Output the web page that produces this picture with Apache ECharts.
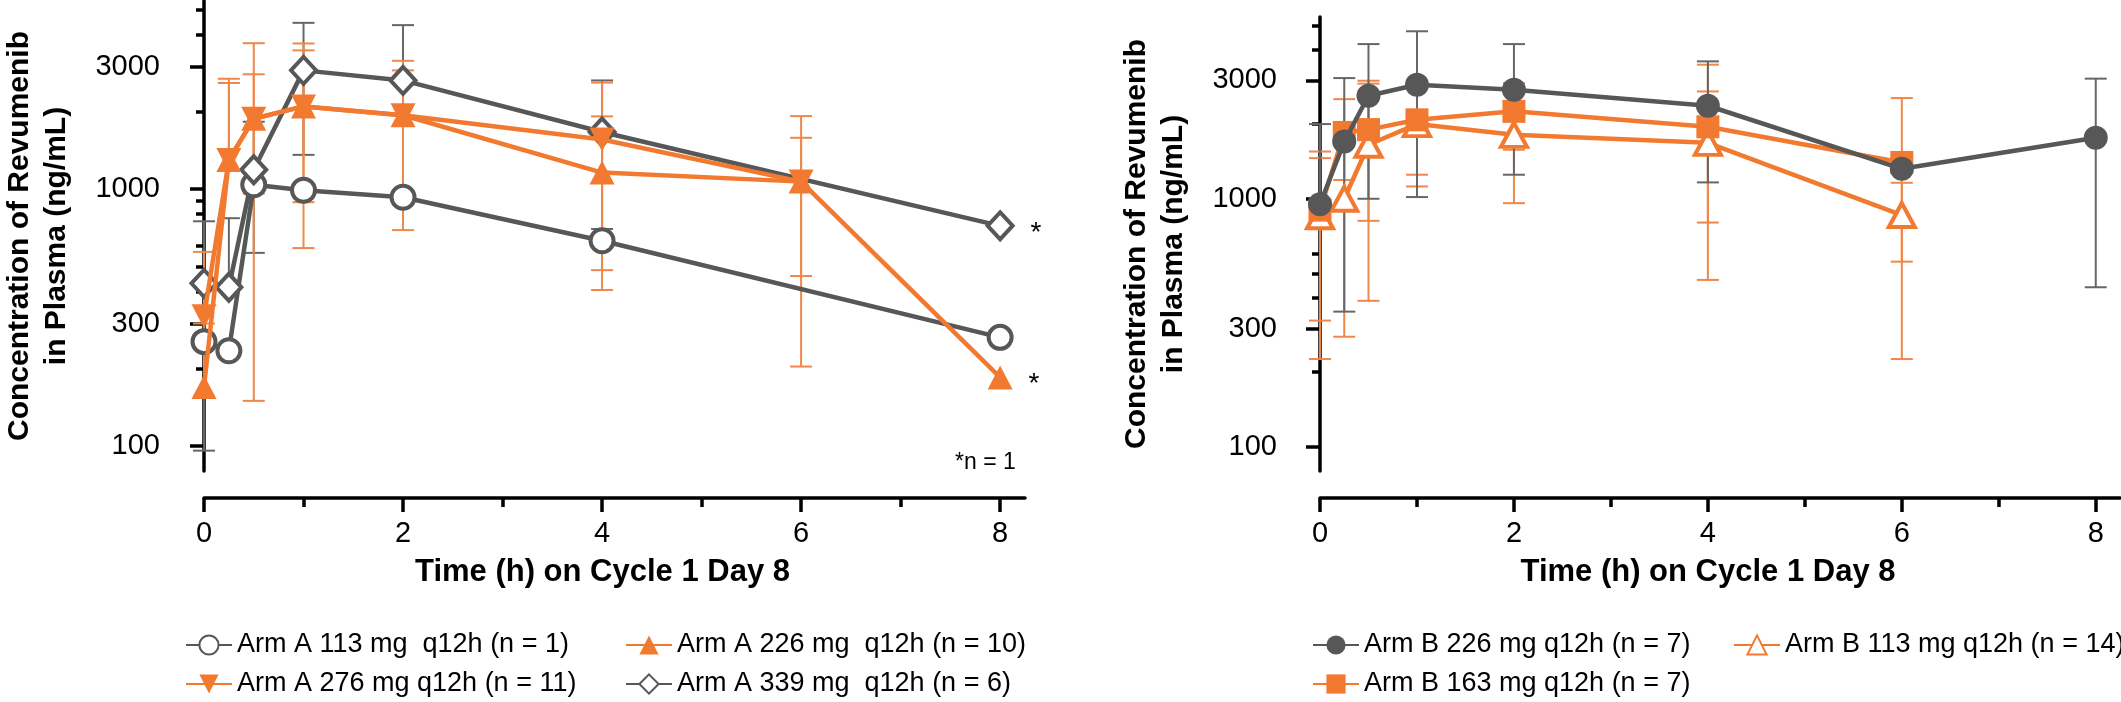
<!DOCTYPE html>
<html><head><meta charset="utf-8">
<script src="https://cdn.jsdelivr.net/npm/echarts@6/dist/echarts.min.js"></script>
<style>html,body{margin:0;padding:0;background:#fff}#c{width:2121px;height:702px}</style>
</head><body><div id="c"></div>
<script>
// ---------- data ----------
const timePoints = [0, 0.25, 0.5, 1, 2, 4, 6, 8];
const xTickLabels = [0, 2, 4, 6, 8];
const xMinorTicks = [1, 3, 5, 7];
const yTickLabels = [100, 300, 1000, 3000];
const yMinorTicks = [200, 400, 500, 600, 800, 900, 2000, 4000, 5000];

// Arm A (left panel) mean concentrations (ng/mL)
const armA113 = [255, 235, 1040, 990, 930, 630, null, 265];
const armA226 = [170, 1300, 1880, 2100, 1940, 1160, 1070, 185];
const armA276 = [320, 1300, 1880, 2100, 1940, 1560, 1070, null];
const armA339 = [430, 415, 1190, 2900, 2650, 1670, null, 720];
// error bar ends (null = not drawn)
const armA226Low  = [null, null, 150, 590, 693, 405, 204, null];
const armA226High = [300, 2590, 3700, 3690, 3160, 1920, 1925, null];
const armA276Low  = [null, null, 960, 890, 900, 484, 459, null];
const armA276High = [570, 2690, 2800, 3470, 2900, 2600, 1585, null];
const armA339Low  = [96, null, 565, 1360, 960, 700, null, null];
const armA339High = [750, 771, 1830, 4440, 4350, 2650, null, null];

// Arm B (right panel)
const armB226 = [950, 1700, 2600, 2880, 2750, 2370, 1320, 1760];
const armB163 = [900, 1850, 1900, 2080, 2250, 1950, 1400, null];
const armB113 = [850, 1000, 1650, 2000, 1810, 1680, 860, null];
const armB226Low  = [null, 351, 1000, 1016, 1250, 1164, null, 440];
const armB226High = [2000, 3064, 4200, 4730, 4200, 3578, null, 3048];
const armB163Low  = [226, 1190, 815, 1250, 1576, 471, 226, null];
const armB163High = [1550, 2520, 2990, 2910, 2924, 3470, 2546, null];
const armB113Low  = [323, 278, 388, 1121, 960, 802, 558, null];
const armB113High = [1458, 1720, 2910, 2880, 2660, 2707, 1160, null];

const namesA = ['Arm A 113 mg  q12h (n = 1)', 'Arm A 226 mg  q12h (n = 10)', 'Arm A 276 mg q12h (n = 11)', 'Arm A 339 mg  q12h (n = 6)'];
const namesB = ['Arm B 226 mg q12h (n = 7)', 'Arm B 163 mg q12h (n = 7)', 'Arm B 113 mg q12h (n = 14)'];
const xTitle = 'Time (h) on Cycle 1 Day 8';
const yTitle = 'Concentration of Revumenib\nin Plasma (ng/mL)';
const footnote = '*n = 1';

// ---------- style ----------
const FONT = 'Liberation Sans, Arial, Helvetica, sans-serif';
const GRAY = '#575757';
const GRAY_ERR = '#666666';
const ORANGE = '#f27a30';
const ORANGE_ERR = '#f0874a';

function pts(vals, starIdx) {
  const out = [];
  timePoints.forEach((t, i) => {
    if (vals[i] == null) return;
    if (i === starIdx) {
      out.push({ value: [t, vals[i]], label: { show: true, formatter: '*', position: 'right', distance: 16,
        offset: [0, 7], fontSize: 28, color: '#000', fontFamily: FONT } });
    } else out.push([t, vals[i]]);
  });
  return out;
}
function errData(vals, lo, hi) {
  const out = [];
  timePoints.forEach((t, i) => {
    if (hi[i] == null || vals[i] == null) return;
    out.push([t, lo[i] == null ? vals[i] : lo[i], hi[i], lo[i] == null ? 0 : 1]);
  });
  return out;
}
function errRender(color) {
  return function (params, api) {
    const x = api.value(0);
    const pLo = api.coord([x, api.value(1)]);
    const pHi = api.coord([x, api.value(2)]);
    const w = 11;
    const style = { stroke: color, lineWidth: 2 };
    const ch = [
      { type: 'line', shape: { x1: pLo[0], y1: pLo[1], x2: pHi[0], y2: pHi[1] }, style },
      { type: 'line', shape: { x1: pHi[0] - w, y1: pHi[1], x2: pHi[0] + w, y2: pHi[1] }, style }
    ];
    if (api.value(3) === 1) ch.push({ type: 'line', shape: { x1: pLo[0] - w, y1: pLo[1], x2: pLo[0] + w, y2: pLo[1] }, style });
    return { type: 'group', children: ch };
  };
}
function errSeries(ax, vals, lo, hi, color) {
  return { type: 'custom', xAxisIndex: ax, yAxisIndex: ax, data: errData(vals, lo, hi),
    encode: { x: 0, y: [1, 2] }, renderItem: errRender(color), z: 1, silent: true };
}
function lineSeries(ax, name, data, color, symbol, size, fill, z) {
  return { type: 'line', name, xAxisIndex: ax, yAxisIndex: ax, data, symbol, symbolSize: size,
    lineStyle: { color, width: 4.5 }, itemStyle: { color: fill, borderColor: color, borderWidth: fill === '#fff' ? 4 : 0 },
    z: z || 3, animation: false };
}

function xMain(grid) {
  return { type: 'value', gridIndex: grid, min: 0, max: 8.25, offset: 27, position: 'bottom',
    axisLine: { show: true, onZero: false, lineStyle: { color: '#000', width: 3.5 } },
    axisTick: { show: true, customValues: xTickLabels, length: 14, lineStyle: { color: '#000', width: 3.5 } },
    axisLabel: { show: true, customValues: xTickLabels, formatter: v => String(Math.round(v)), fontSize: 29, color: '#000', fontFamily: FONT, margin: 21 },
    splitLine: { show: false },
    name: xTitle, nameLocation: 'middle', nameGap: 59,
    nameTextStyle: { fontSize: 31, fontWeight: 'bold', color: '#000', fontFamily: FONT, padding: [0, 24, 0, 0] } };
}
function xMinor(grid) {
  return { type: 'value', gridIndex: grid, min: 0, max: 8.25, offset: 27, position: 'bottom',
    axisLine: { show: false, onZero: false },
    axisTick: { show: true, customValues: xMinorTicks, length: 9, lineStyle: { color: '#000', width: 3.5 } },
    axisLabel: { show: false }, splitLine: { show: false } };
}
function yMain(grid, off) {
  return { type: 'log', logBase: 10, gridIndex: grid, min: 80, max: 5400, offset: off, position: 'left',
    axisLine: { show: true, lineStyle: { color: '#000', width: 3.5 } },
    axisTick: { show: true, customValues: yTickLabels, length: 14, lineStyle: { color: '#000', width: 3.5 } },
    axisLabel: { show: true, customValues: yTickLabels, formatter: v => String(Math.round(v)), fontSize: 29, color: '#000', fontFamily: FONT, margin: 21 },
    splitLine: { show: false }, minorTick: { show: false },
    name: yTitle, nameLocation: 'middle', nameGap: 106,
    nameTextStyle: { fontSize: 30, fontWeight: 'bold', color: '#000', fontFamily: FONT, lineHeight: 37, align: 'center' } };
}
function yMinor(grid, off) {
  return { type: 'log', logBase: 10, gridIndex: grid, min: 80, max: 5400, offset: off, position: 'left',
    axisLine: { show: false },
    axisTick: { show: true, customValues: yMinorTicks, length: 8, lineStyle: { color: '#000', width: 3.5 } },
    axisLabel: { show: false }, splitLine: { show: false }, minorTick: { show: false } };
}

const legendCommon = { orient: 'vertical', itemWidth: 46, itemHeight: 24, itemGap: 9, padding: 0, selectedMode: false,
  textStyle: { fontSize: 27, color: '#000', fontFamily: FONT, lineHeight: 30 } };

const invTri = 'path://M0,0 L20,0 L10,19 Z';

const option = {
  backgroundColor: '#fff',
  animation: false,
  grid: [
    { left: 200, top: 1, width: 825, height: 470, containLabel: false },
    { left: 1320, top: 17, width: 800, height: 454, containLabel: false }
  ],
  xAxis: [xMain(0), xMinor(0), xMain(1), xMinor(1)],
  yAxis: [yMain(0, 23), yMinor(0, 23), yMain(1, 22), yMinor(1, 22)],
  legend: [
    Object.assign({ data: [namesA[0], namesA[2]], left: 185, top: 630 }, legendCommon),
    Object.assign({ data: [namesA[1], namesA[3]], left: 625, top: 630 }, legendCommon),
    Object.assign({ data: [namesB[0], namesB[1]], left: 1312, top: 630 }, legendCommon),
    Object.assign({ data: [namesB[2]], left: 1733, top: 630 }, legendCommon)
  ],
  graphic: [
    { type: 'text', left: 955, top: 451, style: { text: footnote, fontSize: 23, fill: '#000', fontFamily: FONT } }
  ],
  series: [
    errSeries(0, armA339, armA339Low, armA339High, GRAY_ERR),
    errSeries(0, armA226, armA226Low, armA226High, ORANGE_ERR),
    errSeries(0, armA276, armA276Low, armA276High, ORANGE_ERR),
    lineSeries(0, namesA[0], pts(armA113), GRAY, 'circle', 23, '#fff', 3),
    lineSeries(0, namesA[3], pts(armA339, 7), GRAY, 'diamond', [25, 27], '#fff', 3),
    lineSeries(0, namesA[2], pts(armA276), ORANGE, invTri, [25, 24], ORANGE, 4),
    lineSeries(0, namesA[1], pts(armA226, 7), ORANGE, 'triangle', [25, 24], ORANGE, 4),

    errSeries(2, armB163, armB163Low, armB163High, ORANGE_ERR),
    errSeries(2, armB113, armB113Low, armB113High, ORANGE_ERR),
    errSeries(2, armB226, armB226Low, armB226High, GRAY_ERR),
    lineSeries(2, namesB[2], pts(armB113), ORANGE, 'triangle', [26, 24], '#fff', 3),
    lineSeries(2, namesB[1], pts(armB163), ORANGE, 'rect', 23, ORANGE, 3),
    lineSeries(2, namesB[0], pts(armB226), GRAY, 'circle', 24, GRAY, 4)
  ]
};
const chart = echarts.init(document.getElementById('c'), null, { renderer: 'canvas' });
chart.setOption(option);
</script></body></html>
